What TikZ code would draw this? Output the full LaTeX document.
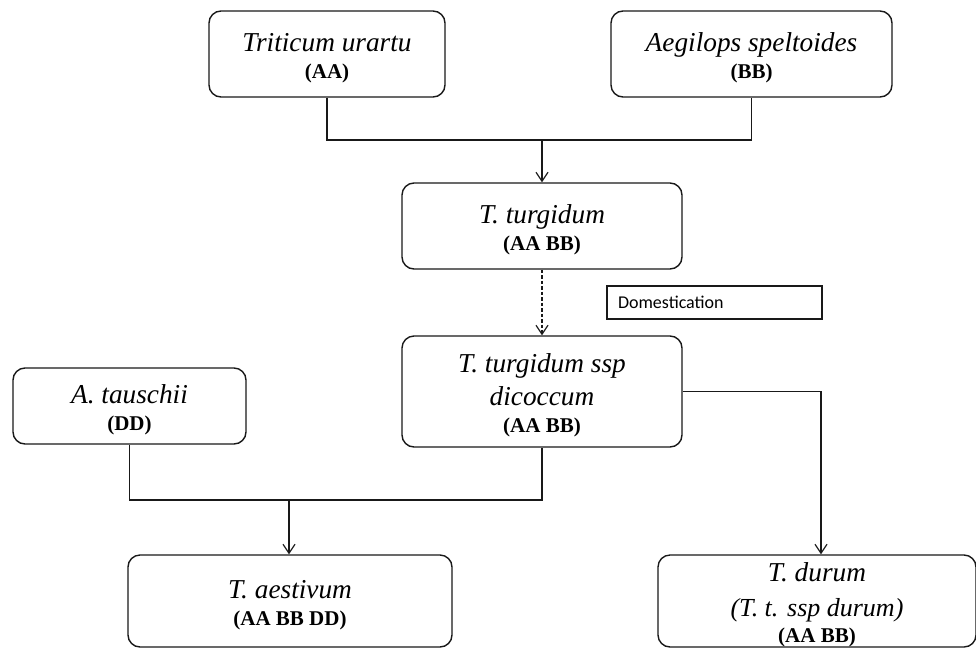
\documentclass[tikz,border=0pt]{standalone}
\usepackage{fontspec}
\setmainfont{Liberation Serif}
\newfontfamily\calibrifont{Carlito}
\usetikzlibrary{arrows.meta}
\newcommand{\topline}{\rule{0pt}{26pt}}
\newcommand{\genome}[1]{{\normalfont\fontsize{21}{27}\selectfont\bfseries #1}}

\begin{document}
\begin{tikzpicture}[x=1pt, y=-1pt,
    box/.style={draw=black!90, line width=1.4pt, rounded corners=12pt, inner sep=0pt, align=center, font=\fontsize{27.3}{27}\selectfont\itshape},
    link/.style={draw=black!90, line width=1.2pt},
    arr/.style={link, -{Straight Barb[length=9pt, width=12pt]}}]
    \useasboundingbox (0,0) rectangle (976,648);
    % parents
    \node[box, minimum width=236pt, minimum height=86pt] at (327,54) (Ur) {\topline Triticum urartu\\\genome{(AA)}};
    \node[box, minimum width=281pt, minimum height=86pt] at (751.5,54) (Sp) {\topline Aegilops speltoides\\\genome{(BB)}};
    \node[box, minimum width=280pt, minimum height=86pt] at (542,226) (Tu) {\topline T. turgidum\\\genome{(AA BB)}};
    \node[box, minimum width=280pt, minimum height=111pt] at (542,391.5) (Di) {\topline T. turgidum ssp\\[6pt]dicoccum\\\genome{(AA BB)}};
    \node[box, minimum width=233pt, minimum height=76pt] at (129.5,406) (Ta) {\topline A. tauschii\\\genome{(DD)}};
    % offspring
    \node[box, minimum width=324pt, minimum height=92pt] at (290,601) (Ae) {\topline T. aestivum\\\genome{(AA BB DD)}};
    \node[box, minimum width=318pt, minimum height=92pt] at (817,601) (Du) {\topline T. durum\\[8pt]{\fontsize{26}{27}\selectfont(T. t. ssp durum)}\\[-1pt]\genome{(AA BB)}};
    \node[draw=black!90, line width=1.4pt, inner xsep=11pt, inner ysep=0pt, minimum height=33pt, text width=193pt, align=left, font=\calibrifont\fontsize{18}{20}\selectfont] at (714.5,302.5) (Do) {Domestication};
    % connectors
    \coordinate (J1) at (542,140);
    \coordinate (J2) at (289,500);
    \draw[link] (Ur.south) |- (J1) -| (Sp.south);
    \draw[arr] (J1) -- (Tu.north);
    \draw[arr, dash pattern=on 3.5pt off 2pt] (Tu.south) -- (Di.north);
    \draw[link] (Ta.south) |- (J2) -| (Di.south);
    \draw[arr] (J2) -- (J2 |- Ae.north);
    \draw[arr] (Di.east) -| ([xshift=4pt]Du.north);
\end{tikzpicture}
\end{document}
